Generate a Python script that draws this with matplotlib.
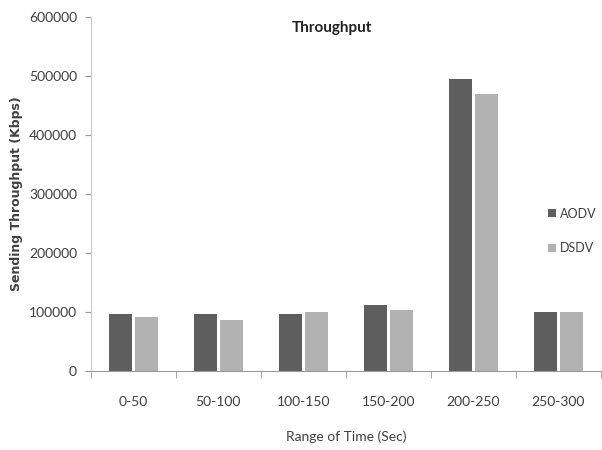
import matplotlib
matplotlib.use("Agg")
import matplotlib.pyplot as plt
import numpy as np

categories = ["0-50", "50-100", "100-150", "150-200", "200-250", "250-300"]
aodv = [97000, 97000, 97000, 111000, 495000, 99000]
dsdv = [92000, 86000, 99000, 103000, 469000, 99000]

narrow = ["Lato", "DejaVu Sans"]
fig = plt.figure(figsize=(6.02, 4.5), dpi=100)
ax = fig.add_axes([0.151, 0.176, 0.847, 0.786])

x = np.arange(len(categories))
w = 0.27
ax.bar(x - w / 2 - 0.015, aodv, w, color="#5e5e5e", label="AODV")
ax.bar(x + w / 2 + 0.015, dsdv, w, color="#b2b2b2", label="DSDV")

ax.set_xlim(-0.5, len(categories) - 0.5)
ax.set_ylim(0, 600000)
ax.set_yticks(np.arange(0, 600001, 100000))
ax.set_yticklabels([f"{v:d}" for v in range(0, 600001, 100000)], family=narrow, fontsize=10, color="#404040")
ax.set_xticks(x)
ax.set_xticklabels(categories, family=narrow, fontsize=10, color="#404040")
ax.tick_params(axis="x", length=0, pad=18)
ax.set_xticks(np.arange(-0.5, len(categories), 1), minor=True)
ax.tick_params(axis="x", which="minor", length=5, color="#999999")
ax.tick_params(axis="y", length=4, color="#999999", pad=6)

for s in ["top", "right"]:
    ax.spines[s].set_visible(False)
ax.spines["left"].set_color("#cccccc")
ax.spines["bottom"].set_color("#999999")

fig.text(332 / 602, 1 - 28 / 450, "Throughput", family=narrow, fontsize=11, fontweight="bold",
         color="#222222", ha="center", va="center")
ax.set_ylabel("Sending Throughput (Kbps)", fontsize=9, fontweight="bold", color="#404040")
ax.yaxis.set_label_coords(-0.133, 0.5)
ax.set_xlabel("Range of Time (Sec)", family=narrow, fontsize=10, color="#404040", labelpad=16)

leg = ax.legend(loc="center left", bbox_to_anchor=(0.897, 0.395), frameon=False, borderpad=0,
                borderaxespad=0, prop={"family": narrow, "size": 9}, handlelength=0.6,
                handleheight=0.6, handletextpad=0.3, labelspacing=1.8)
for t in leg.get_texts():
    t.set_color("#404040")

fig.savefig("out.png", dpi=100)
